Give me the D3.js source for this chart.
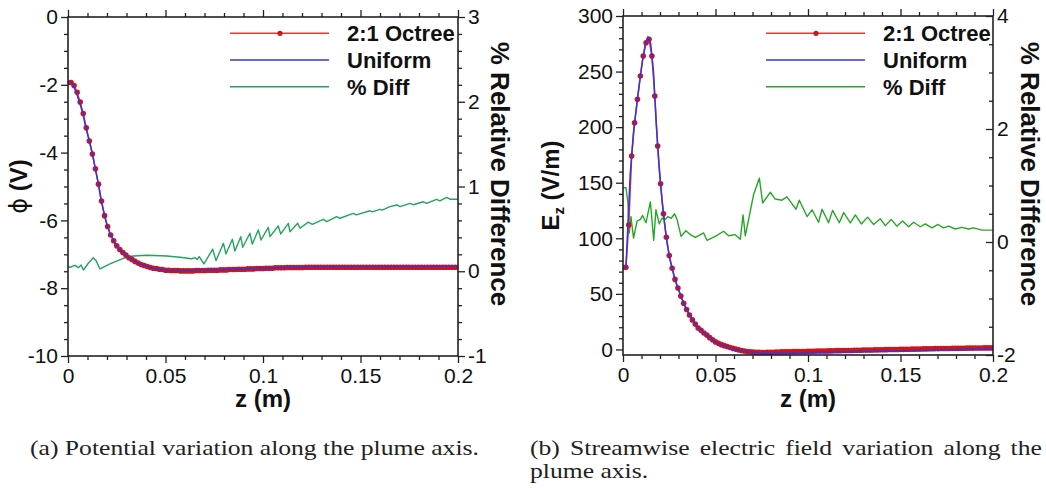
<!DOCTYPE html>
<html>
  <head>
    <meta charset="utf-8" />
    <style>
      body {
        margin: 0;
        background: #fff;
      }
      svg {
        display: block;
      }
      .label {
        font-family: "Liberation Sans", Arial, sans-serif;
        font-weight: bold;
        fill: #111;
      }
      .caption {
        font-family: "Liberation Serif", "Times New Roman", serif;
        font-size: 22px;
        fill: #222;
      }
    </style>
  </head>
  <body>
    <svg width="1046" height="488"></svg>

    <script src="https://d3js.org/d3.v7.min.js"></script>
    <script>
      // ---- data ----
      let zTicks = [0, 0.05, 0.1, 0.15, 0.2];
      let zMinor = [0.01, 0.02, 0.03, 0.04, 0.06, 0.07, 0.08, 0.09, 0.11, 0.12, 0.13, 0.14, 0.16, 0.17, 0.18, 0.19];

      // octree samples sit on a regular grid along the axis, z = k * octreeStep
      let octreeStep = 0.0015625;

      // (a) potential, V
      let phiTicks = [0, -2, -4, -6, -8, -10];
      let phiMinor = [-0.5, -1, -1.5, -2.5, -3, -3.5, -4.5, -5, -5.5, -6.5, -7, -7.5, -8.5, -9, -9.5];
      let phiDiffTicks = [-1, 0, 1, 2, 3];
      let phiDiffMinor = [-0.8, -0.6, -0.4, -0.2, 0.2, 0.4, 0.6, 0.8, 1.2, 1.4, 1.6, 1.8, 2.2, 2.4, 2.6, 2.8];

      let phiOctree = [
        -1.93, -1.93, -2.02, -2.22, -2.51, -2.85, -3.27, -3.66, -4.04, -4.48,
        -4.93, -5.43, -5.86, -6.18, -6.43, -6.6, -6.75, -6.86, -6.95, -7.02,
        -7.1, -7.15, -7.21, -7.26, -7.3, -7.33, -7.36, -7.39, -7.41, -7.42,
        -7.44, -7.45, -7.47, -7.47, -7.48, -7.48, -7.48, -7.49, -7.49, -7.49,
        -7.49, -7.49, -7.48, -7.48, -7.48, -7.48, -7.47, -7.47, -7.47, -7.47,
        -7.46, -7.46, -7.46, -7.45, -7.45, -7.45, -7.44, -7.44, -7.44, -7.43,
        -7.43, -7.43, -7.42, -7.42, -7.42, -7.41, -7.41, -7.41, -7.4, -7.4,
        -7.4, -7.4, -7.39, -7.39, -7.39, -7.39, -7.39, -7.39, -7.38, -7.38,
        -7.38, -7.38, -7.38, -7.38, -7.38, -7.38, -7.38, -7.38, -7.38, -7.38,
        -7.38, -7.38, -7.38, -7.38, -7.38, -7.38, -7.38, -7.38, -7.38, -7.38,
        -7.38, -7.38, -7.38, -7.38, -7.38, -7.38, -7.38, -7.38, -7.38, -7.38,
        -7.38, -7.38, -7.38, -7.38, -7.38, -7.38, -7.38, -7.38, -7.38, -7.38,
        -7.38, -7.38, -7.38, -7.38, -7.38, -7.38, -7.38, -7.38, -7.38
      ];

      let phiUniformZ = [
        0, 0.001, 0.002, 0.003, 0.0045, 0.006, 0.0077, 0.009, 0.0108, 0.0125,
        0.014, 0.0155, 0.0168, 0.0181, 0.0195, 0.0215, 0.0241, 0.0275, 0.0318, 0.0369,
        0.0437, 0.0506, 0.0609, 0.0728, 0.0899, 0.1155, 0.15, 0.2
      ];
      let phiUniform = [
        -1.93, -1.93, -1.96, -2.05, -2.27, -2.54, -2.86, -3.23, -3.62, -4.03,
        -4.47, -4.9, -5.35, -5.69, -6.04, -6.38, -6.68, -6.92, -7.12, -7.29,
        -7.41, -7.47, -7.48, -7.46, -7.43, -7.38, -7.36, -7.35
      ];

      let phiDiffZ = [
        0, 0.001, 0.0036, 0.0053, 0.0067, 0.0079, 0.0104, 0.013, 0.0144, 0.0164,
        0.0215, 0.0284, 0.0335, 0.0404, 0.0506, 0.0574, 0.0634, 0.0651, 0.0663, 0.0673,
        0.0697, 0.0742, 0.0759, 0.0797, 0.081, 0.0843, 0.0856, 0.0886, 0.0896, 0.0933,
        0.0945, 0.0976, 0.099, 0.1027, 0.1036, 0.1078, 0.1091, 0.113, 0.1138, 0.1178,
        0.119, 0.1232, 0.1253, 0.1309, 0.1327, 0.1378, 0.1395, 0.1463, 0.1478, 0.1549,
        0.156, 0.16, 0.1611, 0.1651, 0.1686, 0.1703, 0.1754, 0.1771, 0.1822, 0.1839,
        0.189, 0.1907, 0.1942, 0.1959, 0.2
      ];
      let phiDiff = [
        0.05, 0.047, 0.07, 0.042, 0.074, 0.015, 0.094, 0.16, 0.125, 0.027,
        0.086, 0.153, 0.18, 0.188, 0.18, 0.165, 0.148, 0.16, 0.14, 0.172,
        0.086, 0.26, 0.125, 0.33, 0.204, 0.377, 0.239, 0.408, 0.283, 0.448,
        0.32, 0.487, 0.369, 0.518, 0.408, 0.534, 0.44, 0.566, 0.467, 0.566,
        0.507, 0.58, 0.554, 0.613, 0.585, 0.644, 0.625, 0.683, 0.665, 0.714,
        0.7, 0.731, 0.72, 0.762, 0.782, 0.762, 0.8, 0.785, 0.82, 0.8,
        0.849, 0.83, 0.872, 0.85, 0.849
      ];

      // (b) streamwise electric field, V/m
      let ezTicks = [0, 50, 100, 150, 200, 250, 300];
      let ezMinor = [10, 20, 30, 40, 60, 70, 80, 90, 110, 120, 130, 140, 160, 170, 180, 190, 210, 220, 230, 240, 260, 270, 280, 290];
      let ezDiffTicks = [-2, 0, 2, 4];
      let ezDiffMinor = [-1.5, -1, -0.5, 0.5, 1, 1.5, 2.5, 3, 3.5];

      let ezOctree = [
        74, 74, 112, 174, 204, 225, 246, 264, 276, 279,
        264, 228, 183, 149, 122, 101, 84.5, 73, 63, 55.3,
        48, 41.6, 36, 31, 26.6, 22.8, 19.3, 17.2, 14.8, 12.9,
        10.6, 8.7, 6.8, 5.5, 4.3, 3.4, 2.6, 1.8, 1.0, 0.3,
        -0.4, -1.0, -1.4, -1.8, -2.1, -2.3, -2.5, -2.6, -2.7, -2.7,
        -2.6, -2.6, -2.5, -2.4, -2.3, -2.2, -2.2, -2.1, -2.1, -2.0,
        -1.9, -1.9, -1.8, -1.8, -1.7, -1.7, -1.6, -1.5, -1.5, -1.4,
        -1.4, -1.3, -1.3, -1.2, -1.1, -1.1, -1.0, -1.0, -0.9, -0.9,
        -0.8, -0.7, -0.7, -0.6, -0.6, -0.5, -0.5, -0.4, -0.4, -0.3,
        -0.3, -0.2, -0.1, -0.1, 0.0, 0.0, 0.1, 0.1, 0.2, 0.2,
        0.3, 0.3, 0.4, 0.4, 0.5, 0.5, 0.6, 0.6, 0.7, 0.7,
        0.8, 0.8, 0.9, 0.9, 1.0, 1.0, 1.0, 1.1, 1.1, 1.2,
        1.2, 1.2, 1.3, 1.3, 1.3, 1.4, 1.4, 1.4, 1.4
      ];

      let ezUniformZ = [
        0, 0.0016, 0.0039, 0.0057, 0.0076, 0.009, 0.0104, 0.012, 0.0135, 0.0149,
        0.0165, 0.018, 0.0196, 0.0211, 0.0225, 0.0238, 0.0252, 0.0268, 0.0283, 0.0301,
        0.0315, 0.033, 0.0344, 0.036, 0.0376, 0.0391, 0.0409, 0.0427, 0.0445, 0.0472,
        0.0499, 0.0535, 0.0589, 0.0643, 0.0751, 0.09, 0.12, 0.16, 0.2
      ];
      let ezUniform = [
        74, 74, 157.5, 195.9, 222.3, 240.9, 258.6, 273.9, 281, 276,
        249.3, 201.9, 162, 134, 112.5, 96, 82.4, 71.4, 61.7, 53.4,
        46.8, 40.8, 36, 30.9, 26.4, 22.8, 18.9, 16.7, 13.8, 10.4,
        6.8, 3.9, 0.6, -1.6, -3.4, -3.4, -2.4, -1.0, 0.3
      ];

      let ezDiffZ = [
        0, 0.0016, 0.0027, 0.0034, 0.0043, 0.0057, 0.0076, 0.0094, 0.0106, 0.0124,
        0.0148, 0.0166, 0.0178, 0.0196, 0.0211, 0.0229, 0.0243, 0.0261, 0.0279, 0.0292,
        0.0314, 0.034, 0.0364, 0.0391, 0.0436, 0.0454, 0.0499, 0.0544, 0.0571, 0.0607,
        0.0634, 0.0649, 0.0661, 0.0706, 0.0737, 0.0755, 0.0796, 0.0823, 0.0859, 0.0886,
        0.0935, 0.0953, 0.0995, 0.1022, 0.1057, 0.1076, 0.1111, 0.1133, 0.1169, 0.1193,
        0.1229, 0.1256, 0.1288, 0.1322, 0.1355, 0.1391, 0.1418, 0.145, 0.148, 0.1511,
        0.1544, 0.1571, 0.1607, 0.1634, 0.167, 0.1703, 0.1733, 0.176, 0.1796, 0.1832,
        0.1868, 0.1895, 0.194, 0.2
      ];
      let ezDiff = [
        0.96, 0.96, 0.69, 0.16, 0.45, 0.07, 0.37, 0.4, 0.47, 0.34,
        0.71, 0.03, 0.57, 0.32, 0.42, 0.4, 0.45, 0.42, 0.5, 0.4,
        0.1, 0.2, 0.13, 0.08, 0.16, 0.03, 0.1, 0.19, 0.11, 0.13,
        0.05, 0.48, 0.11, 0.84, 1.13, 0.69, 0.88, 0.76, 0.74, 0.8,
        0.58, 0.74, 0.45, 0.57, 0.35, 0.58, 0.34, 0.56, 0.34, 0.52,
        0.34, 0.48, 0.32, 0.44, 0.31, 0.41, 0.29, 0.4, 0.28, 0.37,
        0.27, 0.35, 0.27, 0.32, 0.25, 0.31, 0.25, 0.28, 0.23, 0.26,
        0.23, 0.25, 0.21, 0.21
      ];

      let legendNames = ["2:1 Octree", "Uniform", "% Diff"];

      // ---- drawing ----
      let svg = d3.select("svg");
      let red = "#e33a36";
      let redDot = "#d21414";
      let blue = "#3434e0";

      function drawPanel(p) {
        let g = svg.append("g");

        let x = d3.scaleLinear().domain([0, 0.2]).range([p.left, p.right]);
        let y = d3.scaleLinear().domain(p.yDomain).range([p.bottom, p.top]);
        let y2 = d3.scaleLinear().domain(p.y2Domain).range([p.bottom, p.top]);

        let clipId = "clip-" + p.id;
        svg
          .append("clipPath")
          .attr("id", clipId)
          .append("rect")
          .attr("x", p.left)
          .attr("y", p.top)
          .attr("width", p.right - p.left)
          .attr("height", p.bottom - p.top);

        let plot = g.append("g").attr("clip-path", `url(#${clipId})`);

        // % diff on the right axis
        let diffLine = d3
          .line()
          .x((d, i) => x(p.diffZ[i]))
          .y((d) => y2(d));
        plot
          .append("path")
          .attr("d", diffLine(p.diff))
          .attr("fill", "none")
          .attr("stroke", p.green)
          .attr("stroke-width", 1.4)
          .attr("stroke-linejoin", "round");

        // octree line + markers
        let octLine = d3
          .line()
          .x((d, i) => x(i * octreeStep))
          .y((d) => y(d));
        plot
          .append("path")
          .attr("d", octLine(p.octree))
          .attr("fill", "none")
          .attr("stroke", red)
          .attr("stroke-width", 1.5);
        plot
          .selectAll(".dot")
          .data(p.octree)
          .join("circle")
          .attr("class", "dot")
          .attr("cx", (d, i) => x(i * octreeStep))
          .attr("cy", (d) => y(d))
          .attr("r", 2.8)
          .attr("fill", redDot);

        // uniform line on top
        let uniLine = d3
          .line()
          .x((d, i) => x(p.uniformZ[i]))
          .y((d) => y(d));
        plot
          .append("path")
          .attr("d", uniLine(p.uniform))
          .attr("fill", "none")
          .attr("stroke", blue)
          .attr("stroke-width", 1.5);

        // axes
        function styleAxis(sel) {
          sel.select(".domain").remove();
          sel.attr("color", "#222");
          sel.selectAll(".tick line").attr("stroke-width", 1.3);
          sel
            .attr("font-family", '"Liberation Sans", Arial, sans-serif')
            .attr("font-size", 21);
          sel.selectAll(".tick text").attr("fill", "#111");
        }
        let fmt = (d) => String(d);

        let axes = [
          [d3.axisBottom(x).tickValues(zTicks).tickSize(7).tickPadding(5).tickFormat(fmt), `translate(0,${p.bottom})`],
          [d3.axisBottom(x).tickValues(zMinor).tickSize(4).tickFormat(""), `translate(0,${p.bottom})`],
          [d3.axisTop(x).tickValues(zTicks).tickSize(7).tickFormat(""), `translate(0,${p.top})`],
          [d3.axisTop(x).tickValues(zMinor).tickSize(4).tickFormat(""), `translate(0,${p.top})`],
          [d3.axisLeft(y).tickValues(p.yTicks).tickSize(7).tickPadding(3).tickFormat(fmt), `translate(${p.left},0)`],
          [d3.axisLeft(y).tickValues(p.yMinor).tickSize(4).tickFormat(""), `translate(${p.left},0)`],
          [d3.axisRight(y2).tickValues(p.y2Ticks).tickSize(p.rightTick).tickPadding(p.rightPad).tickFormat(fmt), `translate(${p.right},0)`],
          [d3.axisRight(y2).tickValues(p.y2Minor).tickSize(p.rightTick > 0 ? 4 : -4).tickFormat(""), `translate(${p.right},0)`],
        ];
        axes.forEach(([ax, tr]) => {
          g.append("g").attr("transform", tr).call(ax).call(styleAxis);
        });

        // frame
        g.append("rect")
          .attr("x", p.left)
          .attr("y", p.top)
          .attr("width", p.right - p.left)
          .attr("height", p.bottom - p.top)
          .attr("fill", "none")
          .attr("stroke", "#222")
          .attr("stroke-width", 1.6);

        // legend
        let colors = [red, blue, p.green];
        let leg = g.append("g");
        legendNames.forEach((name, i) => {
          let ly = 33.3 + i * 26.7;
          leg.append("line")
            .attr("x1", p.legX)
            .attr("x2", p.legX + 99)
            .attr("y1", ly)
            .attr("y2", ly)
            .attr("stroke", colors[i])
            .attr("stroke-width", 1.6);
          if (i == 0) {
            leg.append("circle")
              .attr("cx", p.legX + 50)
              .attr("cy", ly)
              .attr("r", 2.6)
              .attr("fill", redDot);
          }
          leg.append("text")
            .attr("class", "label")
            .attr("x", p.legX + 117)
            .attr("y", ly + 7.8)
            .attr("font-size", 22)
            .text(name);
        });

        // axis titles
        g.append("text")
          .attr("class", "label")
          .attr("x", (p.left + p.right) / 2)
          .attr("y", 407)
          .attr("text-anchor", "middle")
          .attr("font-size", 24)
          .text("z (m)");

        g.append("text")
          .attr("class", "label")
          .attr("transform", `translate(${p.right2Title},174) rotate(90)`)
          .attr("text-anchor", "middle")
          .attr("font-size", 26)
          .text("% Relative Difference");

        let yt = g.append("text")
          .attr("class", "label")
          .attr("transform", `translate(${p.leftTitle},${(p.top + p.bottom) / 2}) rotate(-90)`)
          .attr("text-anchor", "middle")
          .attr("font-size", 24);
        p.yTitle(yt);
      }

      drawPanel({
        id: "a",
        left: 68, right: 458, top: 17, bottom: 356,
        yDomain: [-10, 0], y2Domain: [-1, 3],
        yTicks: phiTicks, yMinor: phiMinor,
        y2Ticks: phiDiffTicks, y2Minor: phiDiffMinor,
        rightTick: 7, rightPad: 3,
        octree: phiOctree,
        uniformZ: phiUniformZ, uniform: phiUniform,
        diffZ: phiDiffZ, diff: phiDiff,
        green: "#22a45e",
        legX: 230,
        leftTitle: 27,
        right2Title: 491,
        yTitle: (t) => {
          t.append("tspan").attr("font-family", '"DejaVu Sans", sans-serif').attr("font-weight", "normal").text("ϕ");
          t.append("tspan").text(" (V)");
        },
      });

      drawPanel({
        id: "b",
        left: 623, right: 993, top: 16, bottom: 355,
        yDomain: [-5, 300], y2Domain: [-2, 4],
        yTicks: ezTicks, yMinor: ezMinor,
        y2Ticks: ezDiffTicks, y2Minor: ezDiffMinor,
        rightTick: -7, rightPad: 4,
        octree: ezOctree,
        uniformZ: ezUniformZ, uniform: ezUniform,
        diffZ: ezDiffZ, diff: ezDiff,
        green: "#24a824",
        legX: 766,
        leftTitle: 559,
        right2Title: 1021,
        yTitle: (t) => {
          t.append("tspan").text("E");
          t.append("tspan").attr("font-size", 15).attr("dy", 5).text("z");
          t.append("tspan").attr("dy", -5).text(" (V/m)");
        },
      });

      // captions: same horizontal stretch for both, second one justified
      let cap = svg.append("g").attr("class", "caption");
      let capA = cap.append("text").text("(a) Potential variation along the plume axis.");
      let stretch = 449 / capA.node().getComputedTextLength();
      capA.attr("transform", `translate(30,455) scale(${stretch},1)`);

      let capB = cap.append("text").text("(b) Streamwise electric field variation along the");
      let natural = capB.node().getComputedTextLength();
      let gap = (512 / stretch - natural) / 6;
      capB
        .attr("word-spacing", gap)
        .attr("transform", `translate(530,455) scale(${stretch},1)`);

      cap.append("text")
        .attr("transform", `translate(530,478) scale(${stretch},1)`)
        .text("plume axis.");
    </script>
  </body>
</html>
